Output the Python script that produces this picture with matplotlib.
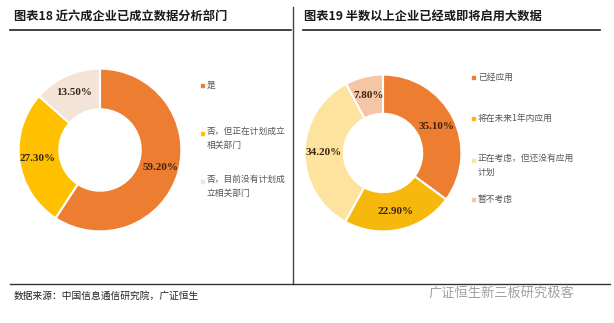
import matplotlib
matplotlib.use("Agg")
import matplotlib.pyplot as plt
from matplotlib.lines import Line2D
from matplotlib.patches import Rectangle

plt.rcParams['font.family'] = ['Noto Sans CJK SC', 'DejaVu Sans']

W, H = 614, 323

# ── data ──
left_title = "图表18 近六成企业已成立数据分析部门"
left_labels = ["是", "否，但正在计划成立\n相关部门", "否，目前没有计划成\n立相关部门"]
left_values = [59.2, 27.3, 13.5]
left_colors = ["#ED7D31", "#FFC000", "#F3E4D7"]

right_title = "图表19 半数以上企业已经或即将启用大数据"
right_labels = ["已经应用", "将在未来1年内应用", "正在考虑，但还没有应用\n计划", "暂不考虑"]
right_values = [35.1, 22.9, 34.2, 7.8]
right_colors = ["#ED7D31", "#F6B80C", "#FDE39E", "#F4C6A6"]

source = "数据来源：中国信息通信研究院，广证恒生"
watermark = "广证恒生新三板研究极客"


def px(x, y):
    return x / W, 1 - y / H


def donut(cx, cy, r, values, colors, hole=0.5, pct_r=0.76):
    ax = fig.add_axes([(cx - r) / W, (H - cy - r) / H, 2 * r / W, 2 * r / H])
    ax.pie(values, colors=colors, startangle=90, counterclock=False, radius=1,
           wedgeprops=dict(width=1 - hole, edgecolor="white", linewidth=1.5),
           autopct=lambda p: f"{p:.2f}%", pctdistance=pct_r,
           textprops=dict(family="Liberation Serif", fontweight="bold",
                          fontsize=8, color="#3b2412"))
    ax.set_xlim(-1.02, 1.02); ax.set_ylim(-1.02, 1.02)
    ax.set_aspect("equal"); ax.axis("off")
    return ax


def legend(x, ys, labels, colors):
    for y, lab, c in zip(ys, labels, colors):
        fx, fy = px(x, y)
        fig.patches.append(Rectangle((fx - 6 / W, fy - 1.5 / H), 3 / W, 3 / H,
                                     transform=fig.transFigure, color=c))
        multi = "\n" in lab
        fig.text(fx, fy + (6 / H if multi else 0), lab, fontsize=6.3, color="#555555",
                 va="top" if multi else "center", ha="left", linespacing=1.7)


fig = plt.figure(figsize=(W / 100, H / 100), dpi=100)

# frame lines
fig.add_artist(Line2D([10 / W, 291 / W], [1 - 30 / H] * 2, color="#222222", lw=1.2))
fig.add_artist(Line2D([303 / W, 600 / W], [1 - 30 / H] * 2, color="#222222", lw=1.2))
fig.add_artist(Line2D([293 / W] * 2, [1 - 7 / H, 1 - 284 / H], color="#444444", lw=1.0))
fig.add_artist(Line2D([10 / W, 610 / W], [1 - 284 / H] * 2, color="#333333", lw=1.0))

# titles
fig.text(*px(14, 16), left_title, fontsize=8.8, fontweight="bold", color="#1a1a1a", va="center")
fig.text(*px(304, 16), right_title, fontsize=8.8, fontweight="bold", color="#1a1a1a", va="center")

donut(100, 150, 83, left_values, left_colors, hole=0.5, pct_r=0.77)
donut(383, 153, 80, right_values, right_colors, hole=0.5, pct_r=0.76)

legend(207, [85, 133, 181], left_labels, left_colors)
legend(478, [77, 118, 160, 199], right_labels, right_colors)

fig.text(*px(14, 296), source, fontsize=7, color="#222222", va="center")
fig.text(*px(428, 293), watermark, fontsize=9.5, color="#a0a0a0", va="center")

fig.savefig("out.png", dpi=100)
